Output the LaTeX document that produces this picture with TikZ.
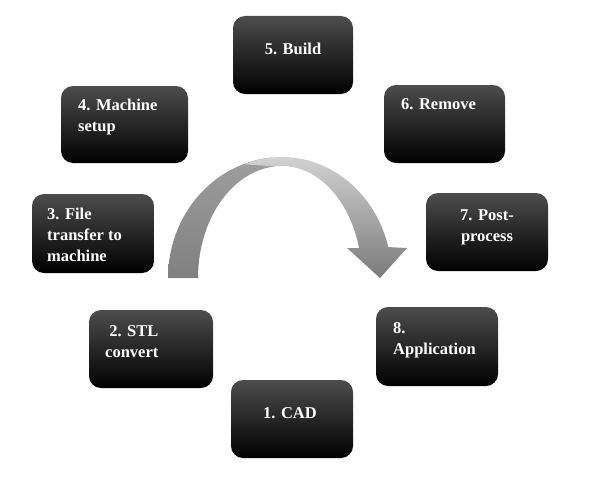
\documentclass[tikz,border=0pt]{standalone}
\usepackage{fontspec}
\setmainfont{Liberation Serif}
\begin{document}
\begin{tikzpicture}[x=1pt, y=-1pt, line join=round, line cap=round, samples=40,
		stage/.style={rounded corners=12pt, top color=black!70, middle color=black, bottom color=black, minimum width=122pt, minimum height=78pt, inner sep=0pt},
		lbl/.style={text=white, inner sep=0pt, font=\bfseries\fontsize{16.5}{21}\selectfont}]
	\useasboundingbox (0,0) rectangle (596,487);
	% curved arrow
	\shade[top color=black!38, bottom color=black!50] plot[domain=180:95] ({282+114*cos(\x)},{278-121*sin(\x)}) -- plot[domain=95:180] ({282+84*cos(\x)},{278-112*sin(\x)}) -- cycle;
	\shade[top color=black!18, bottom color=black!52] plot[domain=110:14.8] ({282+110*cos(\x)},{278-121*sin(\x)}) -- (407,248) -- (380,278) -- (347,248) -- plot[domain=15.5:95] ({282+80*cos(\x)},{278-112*sin(\x)}) -- cycle;
	%===
	\node[stage] (b1) at (292,419) {};
	\node[stage, minimum width=124pt] (b2) at (151,349) {};
	\node[stage, minimum height=79pt] (b3) at (93,233.5) {};
	\node[stage, minimum width=127pt, minimum height=77pt] (b4) at (124.5,124.5) {};
	\node[stage, minimum width=120pt] (b5) at (293,55) {};
	\node[stage, minimum width=121pt] (b6) at (444.5,124) {};
	\node[stage] (b7) at (487,232) {};
	\node[stage, minimum height=79pt] (b8) at (437,346.5) {};
	%===
	\node[lbl, anchor=base] (t1) at (290,418) {1. CAD};
	\node[lbl, anchor=north west, align=left] (t2) at (105,325) {~2. STL\\convert};
	\node[lbl, anchor=north west, align=left] (t3) at (47,208) {3. File\\transfer to\\machine};
	\node[lbl, anchor=north west, align=left] (t4) at (78,99) {4. Machine\\setup};
	\node[lbl, anchor=base] (t5) at (293,55) {5. Build};
	\node[lbl, anchor=base west] (t6) at (401,109) {6. Remove};
	\node[lbl, anchor=north, align=center] (t7) at (487,209) {7. Post-\\process};
	\node[lbl, anchor=north west, align=left] (t8) at (393,322) {8.\\Application};
\end{tikzpicture}
\end{document}
